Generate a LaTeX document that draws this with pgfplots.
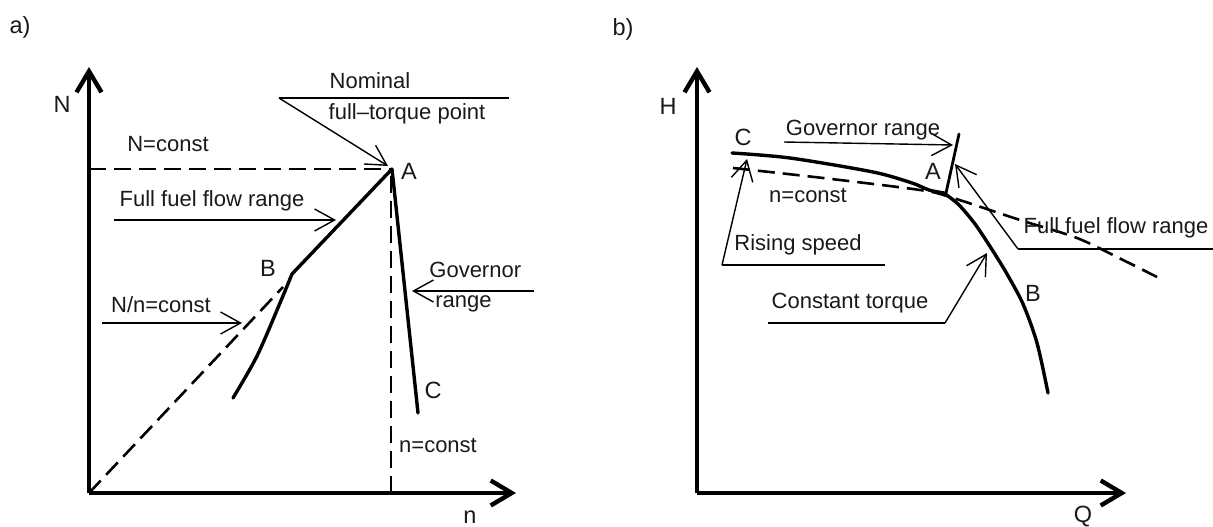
\documentclass[border=0pt]{standalone}
\usepackage{fontspec}
\setmainfont{Liberation Sans}
\usepackage{pgfplots}
\pgfplotsset{compat=1.18}
\usetikzlibrary{arrows.meta}

\tikzset{
  curve/.style={black, line width=1.7pt, line cap=round},
  dashcurve/.style={black, line width=1.3pt, dash pattern=on 8.5pt off 4pt},
  leader/.style={black, line width=0.7pt},
  lead/.style={leader, -{Straight Barb[length=10pt,width=11pt]}},
  txt/.style={font=\fontsize{11}{12}\selectfont, text=black!90, inner sep=0pt},
  lbl/.style={font=\fontsize{11.75}{13}\selectfont, text=black!90, inner sep=0pt},
}
\pgfplotsset{
  sketch/.style={
    x=0.5pt, y=0.5pt, xmin=0, ymin=0, ymax=426,
    axis lines*=left, xtick=\empty, ytick=\empty,
    axis line style={line width=2.2pt, -{Straight Barb[length=10.5pt,width=12.5pt]}},
    clip=false, anchor=south west,
  },
}

\begin{document}
\begin{tikzpicture}
\path[use as bounding box] (0,0) rectangle (606.5pt,263pt);

% ---- a) power vs speed
\begin{axis}[sketch, at={(44.5pt,16.5pt)}, xmax=427]
  % N = const and n = const through A
  \addplot[dashcurve] coordinates {(0,324) (303,324)};
  \addplot[dashcurve] coordinates {(302,0) (302,324)};
  % N/n = const
  \addplot[dashcurve] coordinates {(0,0) (194,206)};
  % full fuel flow range, B -> A, and below B
  \addplot[curve] coordinates {(203,219) (303,324)};
  \addplot[curve, smooth] coordinates {(144,95) (168,137) (191,190) (203,219)};
  % governor range A -> C
  \addplot[curve] coordinates {(303,324) (329,80)};

  \draw[lead] (axis cs:25,273) -- (axis cs:247,273);
  \node[txt] at (axis cs:123,292) {Full fuel flow range};
  \draw[lead] (axis cs:13,170) -- (axis cs:153,170);
  \node[txt] at (axis cs:72,188) {N/n=const};
  \draw[lead] (axis cs:445,202) -- (axis cs:323,202);
  \node[txt, anchor=west] at (axis cs:340,223) {Governor};
  \node[txt, anchor=west] at (axis cs:346,189) {range};
  \draw[leader] (axis cs:420,395) -- (axis cs:190,395);
  \draw[lead] (axis cs:190,395) -- (axis cs:299,327);
  \node[txt] at (axis cs:281,412) {Nominal};
  \node[txt] at (axis cs:318,379) {full–torque point};
  \node[txt] at (axis cs:79,349) {N=const};
  \node[txt] at (axis cs:349,48) {n=const};

  \node[lbl] at (axis cs:320,322) {A};
  \node[lbl] at (axis cs:179,225) {B};
  \node[lbl] at (axis cs:344,103) {C};
  \node[lbl] at (axis cs:-27,389) {N};
  \node[lbl] at (axis cs:381,-24) {n};
  \node[lbl] at (axis cs:-69,466) {a)};
\end{axis}

% ---- b) head vs flow
\begin{axis}[sketch, at={(348.5pt,16.5pt)}, xmax=429]
  % n = const
  \addplot[dashcurve, smooth] coordinates {
    (36,325) (126,315) (223,303) (253,296) (323,273) (380,255) (426,233) (460,216)};
  % rising speed C -> A
  \addplot[curve, smooth] coordinates {
    (35,340) (93,335) (176,321) (215,310) (232,303) (247,300)};
  % constant torque A -> B
  \addplot[curve, smooth] coordinates {
    (247,300) (262,288) (278,269) (294,245) (310,219) (326,189) (340,150) (351,100)};
  % governor range
  \addplot[curve, line width=1.4pt] coordinates {(249,300) (262,359)};

  \draw[lead] (axis cs:87,351) -- (axis cs:256,348);
  \node[txt] at (axis cs:166,363) {Governor range};
  \node[txt] at (axis cs:111,298) {n=const};
  \draw[leader] (axis cs:516,244) -- (axis cs:321,244);
  \draw[lead] (axis cs:321,244) -- (axis cs:258,329);
  \node[txt] at (axis cs:419,265) {Full fuel flow range};
  \draw[leader] (axis cs:188,228) -- (axis cs:25,228);
  \draw[lead] (axis cs:25,228) -- (axis cs:50,334);
  \node[txt] at (axis cs:101,248) {Rising speed};
  \draw[leader] (axis cs:71,170) -- (axis cs:248,170);
  \draw[lead] (axis cs:248,170) -- (axis cs:290,240);
  \node[txt] at (axis cs:153,190) {Constant torque};

  \node[lbl] at (axis cs:236,322) {A};
  \node[lbl] at (axis cs:336,200) {B};
  \node[lbl] at (axis cs:46,356) {C};
  \node[lbl] at (axis cs:-29,387) {H};
  \node[lbl] at (axis cs:386,-24) {Q};
  \node[lbl] at (axis cs:-74,464) {b)};
\end{axis}
\end{tikzpicture}
\end{document}
